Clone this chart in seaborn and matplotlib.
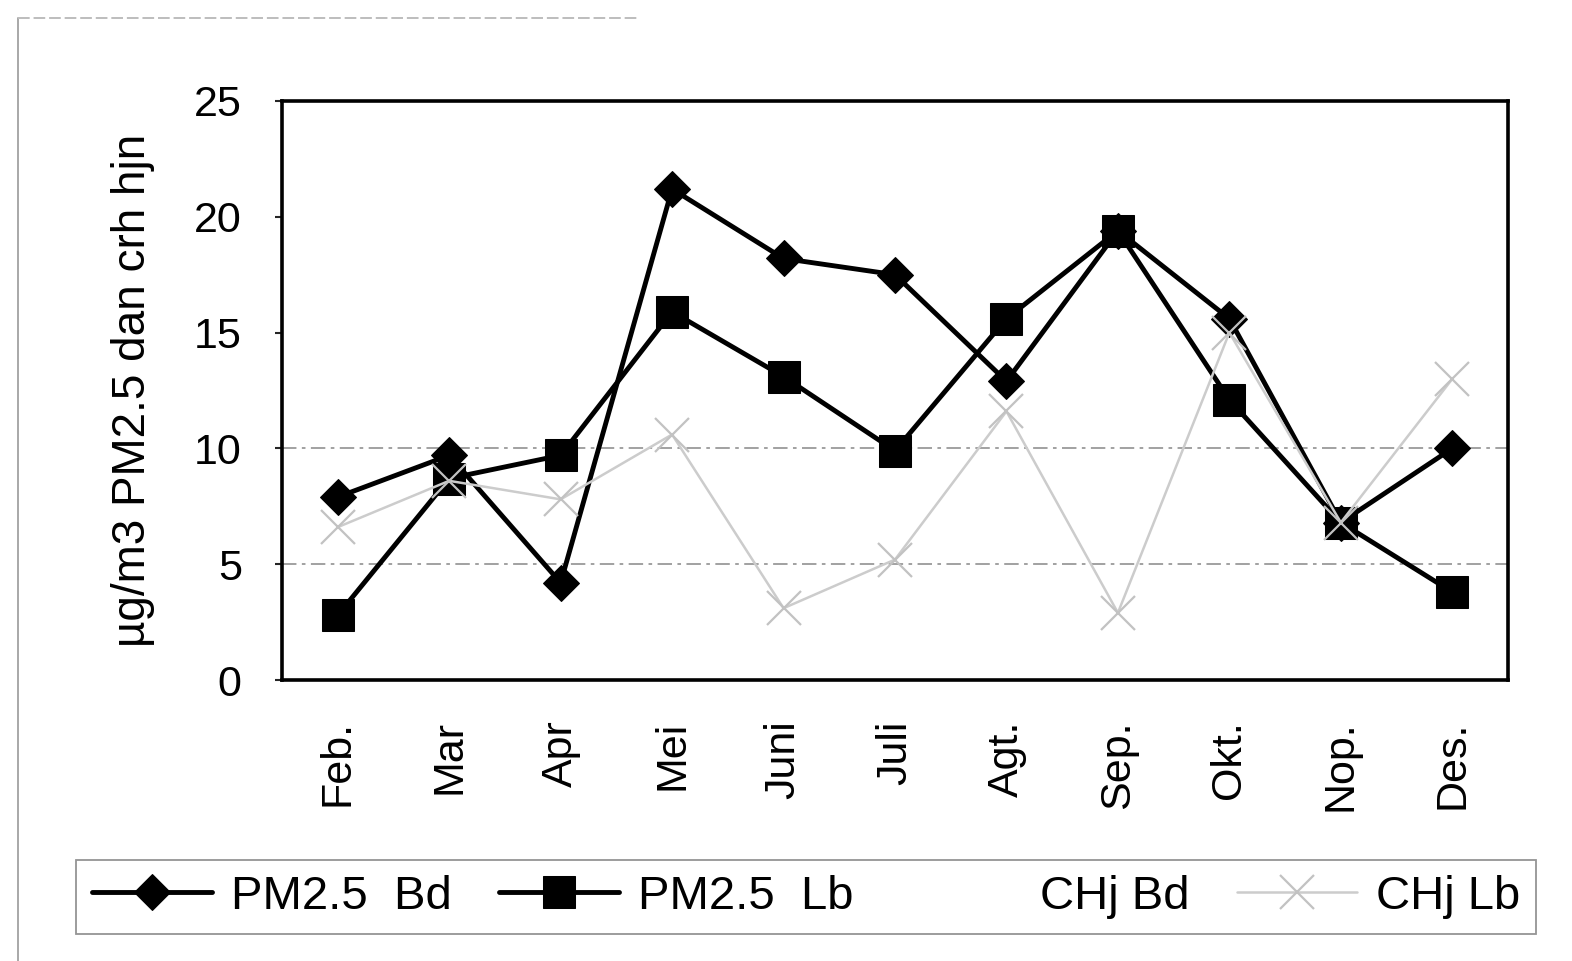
import numpy as np
import pandas as pd
import matplotlib
matplotlib.use("Agg")
import matplotlib.pyplot as plt
import seaborn as sns
from matplotlib.lines import Line2D

# Monthly values
months = ["Feb.", "Mar", "Apr", "Mei", "Juni", "Juli", "Agt.", "Sep.", "Okt.", "Nop.", "Des."]
pm25_bd = [7.9, 9.7, 4.2, 21.2, 18.2, 17.5, 12.9, 19.4, 15.6, 6.8, 10.0]
pm25_lb = [2.8, 8.7, 9.7, 15.9, 13.1, 9.9, 15.6, 19.4, 12.1, 6.8, 3.8]
chj_bd = [8.0, 9.3, 6.5, 12.5, 9.0, 8.5, 20.5, 9.0, 19.0, 20.2, 14.0]
chj_lb = [6.6, 8.6, 7.8, 10.6, 3.1, 5.2, 11.6, 2.9, 15.0, 6.8, 13.0]

series_names = ["PM2.5  Bd", "PM2.5  Lb", "CHj Bd", "CHj Lb"]
y_ticks = [0, 5, 10, 15, 20, 25]
grid_levels = [5, 10]
y_label = "µg/m3 PM2.5 dan crh hjn"

sns.set_theme(style="white")
plt.rcParams["font.family"] = ["Liberation Sans", "DejaVu Sans"]

W, H = 1572, 961
fig = plt.figure(figsize=(W / 100, H / 100), dpi=100)
fig.patch.set_facecolor("white")
ax = fig.add_axes([282 / W, 1 - 680 / H, 1226 / W, 579 / H])
ax.set_facecolor("white")

pos = np.arange(len(months))
df = pd.DataFrame({"pos": pos, "bd": pm25_bd, "lb": pm25_lb,
                   "chj_bd": chj_bd, "chj_lb": chj_lb})

for lvl in grid_levels:
    ax.axhline(lvl, color="#9a9a9a", lw=1.3, ls=(0, (8, 3, 2, 3)), zorder=1)

sns.lineplot(data=df, x="pos", y="bd", ax=ax, color="black", lw=3.5,
             marker="D", markersize=18, markeredgecolor="black",
             markerfacecolor="black", label=series_names[0], zorder=3)
sns.lineplot(data=df, x="pos", y="lb", ax=ax, color="black", lw=3.5,
             marker="s", markersize=23, markeredgecolor="black",
             markerfacecolor="black", label=series_names[1], zorder=4)
sns.lineplot(data=df, x="pos", y="chj_bd", ax=ax, color="white", lw=2.0,
             label=series_names[2], zorder=0.5)
sns.lineplot(data=df, x="pos", y="chj_lb", ax=ax, color="#cccccc", lw=1.8,
             marker="x", markersize=24, markeredgewidth=1.6,
             markeredgecolor="#c2c2c2", label=series_names[3], zorder=5)

handles, labels = ax.get_legend_handles_labels()
ax.get_legend().remove()

ax.set_xlim(-0.5, len(months) - 0.5)
ax.set_ylim(0, 25)
ax.set_yticks(y_ticks)
ax.set_xticks(pos)
ax.set_xticklabels(months, rotation=90, fontsize=31, color="black")
ax.set_yticklabels([str(t) for t in y_ticks], fontsize=31, color="black")
ax.tick_params(axis="y", direction="out", length=5, width=1.5, pad=24, left=True)
ax.tick_params(axis="x", length=0, pad=29)
ax.set_xlabel("")
ax.set_ylabel(y_label, fontsize=33, color="black", labelpad=28)

for side in ["left", "right", "top", "bottom"]:
    ax.spines[side].set_visible(True)
    ax.spines[side].set_color("black")
    ax.spines[side].set_linewidth(2.6)

leg = fig.legend(handles, labels, loc="center",
                 bbox_to_anchor=(806 / W, 1 - 897 / H), ncol=4,
                 fontsize=34, frameon=True, handlelength=2.55,
                 handletextpad=0.4, columnspacing=1.0, borderpad=0.32,
                 fancybox=False)
leg.get_frame().set_edgecolor("#7a7a7a")
leg.get_frame().set_linewidth(1.3)
for t in leg.get_texts():
    t.set_color("black")

# outer chart border traces
fig.add_artist(Line2D([18 / W, 18 / W], [1 - 18 / H, 0], transform=fig.transFigure,
                      color="#a8a8a8", lw=1.4))
fig.add_artist(Line2D([18 / W, 640 / W], [1 - 18 / H, 1 - 18 / H], transform=fig.transFigure,
                      color="#bdbdbd", lw=1.4, ls=(0, (6, 2))))

fig.savefig("out.png", dpi=100, facecolor="white")
